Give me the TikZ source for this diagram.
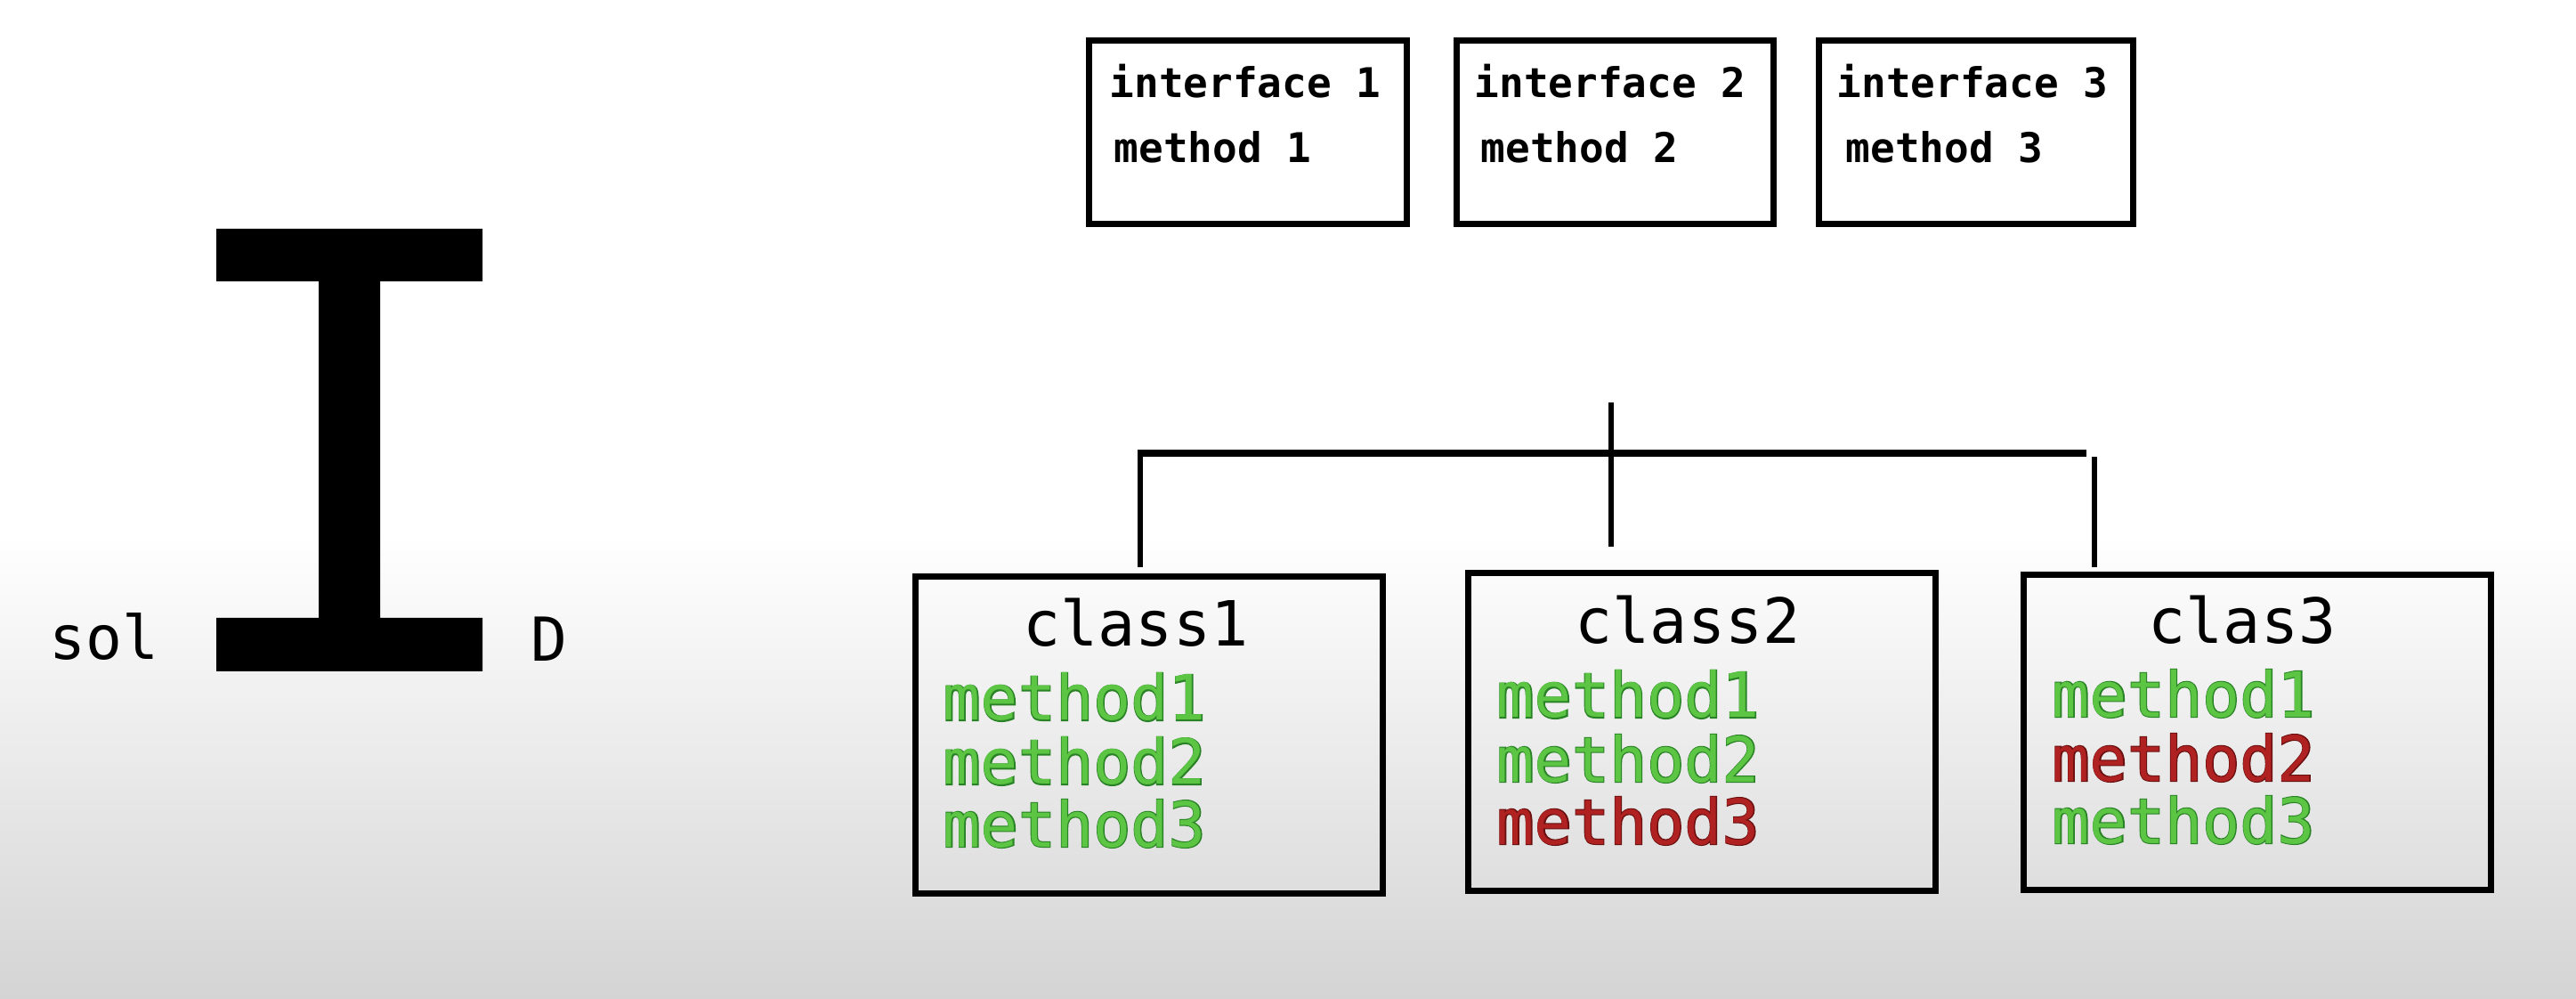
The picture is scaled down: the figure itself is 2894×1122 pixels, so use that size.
\documentclass[tikz,border=0pt]{standalone}
\usepackage{fontspec}
\setmainfont{DejaVu Sans Mono}
\newfontfamily\monofake[FakeBold=3]{DejaVu Sans Mono}
\usetikzlibrary{fit}
\definecolor{bggray}{HTML}{D4D4D4}
\definecolor{okfill}{HTML}{5CC544}
\definecolor{okline}{HTML}{2A8226}
\definecolor{badfill}{HTML}{B02222}
\definecolor{badline}{HTML}{6A1010}
\newcommand\outlinedtext[3]{\makebox[0pt][l]{\color{#2}\monofake #3}{\color{#1}#3}}
\newcommand\okm[1]{\outlinedtext{okfill}{okline}{#1}}
\newcommand\badm[1]{\outlinedtext{badfill}{badline}{#1}}
\begin{document}
\begin{tikzpicture}[x=0.25pt,y=-0.25pt,
  ibox/.style={draw=black, line width=1.75pt, inner sep=0pt},
  cbox/.style={draw=black, line width=1.75pt, inner sep=0pt},
  itext/.style={anchor=base west, inner sep=0pt, font=\fontsize{11.5}{13}\selectfont\bfseries},
  ctitle/.style={anchor=base, inner sep=0pt, font=\fontsize{17.5}{20}\selectfont},
  mtext/.style={anchor=base west, inner sep=0pt, font=\fontsize{17.5}{20}\selectfont},
  lbl/.style={anchor=base west, inner sep=0pt, font=\fontsize{17}{20}\selectfont},
  hline/.style={line width=2pt},
  vline/.style={line width=1.5pt}]
\useasboundingbox (0,0) rectangle (2894,1122);
% background
\fill[white] (0,0) rectangle (2894,600);
\shade[top color=white, bottom color=bggray] (0,600) rectangle (2894,1122);

% I-beam symbol
\fill[black] (243,257) -- (542,257) -- (542,316) -- (427,316) -- (427,694)
  -- (542,694) -- (542,754) -- (243,754) -- (243,694) -- (358,694)
  -- (358,316) -- (243,316) -- cycle;
\node[lbl] (sol) at (55,741) {sol};
\node[lbl] (dlab) at (596,743) {D};

% interface boxes
\node[ibox, fit={(1223,46)(1580,252)}] (i1) {};
\node[ibox, fit={(1636,46)(1992,252)}] (i2) {};
\node[ibox, fit={(2043,46)(2396,252)}] (i3) {};
\node[itext] (i1a) at (1246,110) {interface 1};
\node[itext] (i1b) at (1251,183) {method 1};
\node[itext] (i2a) at (1656,110) {interface 2};
\node[itext] (i2b) at (1663,183) {method 2};
\node[itext] (i3a) at (2063,110) {interface 3};
\node[itext] (i3b) at (2073,183) {method 3};

% class boxes
\node[cbox, fit={(1028,648)(1553,1003)}] (c1) {};
\node[cbox, fit={(1649,644)(2174,1000)}] (c2) {};
\node[cbox, fit={(2273,646)(2798,999)}] (c3) {};

\node[ctitle] (c1t) at (1276,726) {class1};
\node[ctitle] (c2t) at (1896,723) {class2};
\node[ctitle] (c3t) at (2519,723) {clas3};

\node[mtext] (c1m1) at (1059,809) {\okm{method1}};
\node[mtext] (c1m2) at (1059,881) {\okm{method2}};
\node[mtext] (c1m3) at (1059,951) {\okm{method3}};
\node[mtext] (c2m1) at (1681,806) {\okm{method1}};
\node[mtext] (c2m2) at (1681,878) {\okm{method2}};
\node[mtext] (c2m3) at (1681,948) {\badm{method3}};
\node[mtext] (c3m1) at (2305,805) {\okm{method1}};
\node[mtext] (c3m2) at (2305,877) {\badm{method2}};
\node[mtext] (c3m3) at (2305,947) {\okm{method3}};

% connector tree
\coordinate (hl) at (1281,509);
\coordinate (hr) at (2344,509);
\coordinate (vt) at (1810,452);
\coordinate (vb) at (1810,614);
\coordinate (lb) at (1281,637);
\coordinate (rt) at (2353,513);
\coordinate (rb) at (2353,637);
\draw[hline] (hl) -- (hr);
\draw[vline] ([yshift=1pt]hl) -- (lb);
\draw[vline] (vt) -- (vb);
\draw[vline] (rt) -- (rb);
\end{tikzpicture}
\end{document}
